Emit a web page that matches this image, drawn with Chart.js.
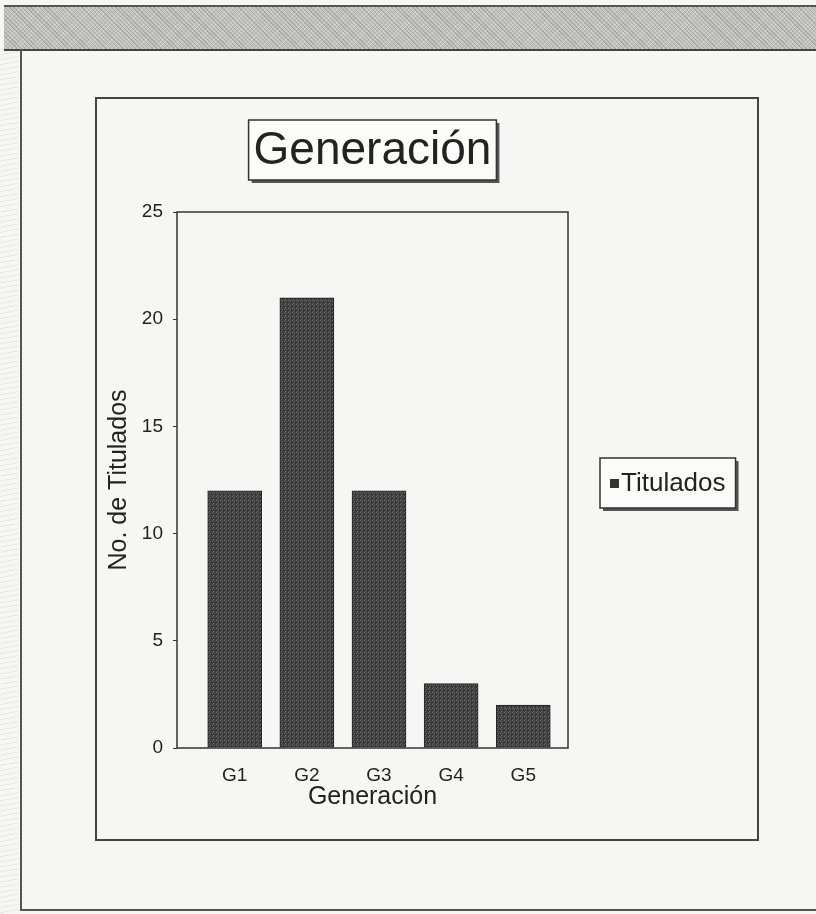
<!DOCTYPE html>
<html lang="es">
<head>
    <meta charset="UTF-8">
    <title>Generación</title>
    <script src="https://cdn.jsdelivr.net/npm/chart.js"></script>
    <style>
        body {
            margin: 0;
            width: 816px;
            height: 914px;
            background-color: #f6f6f4;
            font-family: Arial, "Liberation Sans", sans-serif;
            position: relative;
            overflow: hidden;
        }
        .band {
            position: absolute;
            left: 4px; right: 0; top: 5px; height: 42px;
            border-top: 2px solid #555;
            border-bottom: 2px solid #444;
            background-color: #c2c2bf;
            background-image: repeating-linear-gradient(45deg, rgba(100,100,100,0.3) 0 1px, transparent 1px 3px),
                              repeating-linear-gradient(-45deg, rgba(235,235,235,0.4) 0 1px, transparent 1px 3px);
        }
        .outer {
            position: absolute;
            left: 20px; top: 49px; width: 800px; height: 860px;
            border-left: 2px solid #555;
            border-bottom: 2px solid #555;
        }
        .inner {
            position: absolute;
            left: 95px; top: 97px; width: 660px; height: 740px;
            border: 2px solid #444;
        }
        .strip {
            position: absolute;
            left: 0; top: 49px; width: 18px; height: 865px;
            background-image: repeating-linear-gradient(170deg, rgba(160,160,160,0.18) 0 1px, transparent 1px 5px);
        }
        canvas { position: absolute; left: 0; top: 0; }
    </style>
</head>
<body>
    <div class="band"></div>
    <div class="strip"></div>
    <div class="outer"></div>
    <div class="inner"></div>
    <canvas id="chart" width="816" height="914"></canvas>

    <script>
        const categories = ["G1", "G2", "G3", "G4", "G5"];
        const titulados = [12, 21, 12, 3, 2];
        const yTicks = [0, 5, 10, 15, 20, 25];

        const chartTitle = "Generación";
        const seriesName = "Titulados";

        // small repeating speckle for the bars (scanned-print look)
        function speckle() {
            const c = document.createElement('canvas');
            c.width = 4; c.height = 4;
            const g = c.getContext('2d');
            g.fillStyle = '#3f3f3f';
            g.fillRect(0, 0, 4, 4);
            g.fillStyle = '#6c6c6c';
            g.fillRect(0, 0, 1, 1);
            g.fillRect(2, 1, 1, 1);
            g.fillRect(1, 3, 1, 1);
            g.fillStyle = '#2a2a2a';
            g.fillRect(3, 2, 1, 1);
            return g.createPattern(c, 'repeat');
        }

        function boxWithShadow(ctx, x, y, w, h) {
            ctx.save();
            ctx.fillStyle = '#555';
            ctx.fillRect(x + 3, y + 3, w, h);
            ctx.fillStyle = '#fbfbfa';
            ctx.fillRect(x, y, w, h);
            ctx.lineWidth = 1.5;
            ctx.strokeStyle = '#333';
            ctx.strokeRect(x, y, w, h);
            ctx.restore();
        }

        const decor = {
            id: 'decor',
            afterDraw(chart) {
                const ctx = chart.ctx;
                const a = chart.chartArea;

                // plot frame
                ctx.save();
                ctx.lineWidth = 1.5;
                ctx.strokeStyle = '#333';
                ctx.strokeRect(a.left, a.top, a.right - a.left, a.bottom - a.top);
                ctx.restore();

                // boxed title, centred over the plot area
                ctx.save();
                ctx.font = '46px Arial, "Liberation Sans", sans-serif';
                const tw = ctx.measureText(chartTitle).width;
                const cx = (a.left + a.right) / 2;
                const ty = a.top - 62;
                boxWithShadow(ctx, cx - tw / 2 - 5, ty - 30, tw + 10, 60);
                ctx.fillStyle = '#222';
                ctx.textAlign = 'center';
                ctx.textBaseline = 'middle';
                ctx.fillText(chartTitle, cx, ty + 1);
                ctx.restore();

                // boxed legend at the right, vertically centred
                ctx.save();
                ctx.font = '26px Arial, "Liberation Sans", sans-serif';
                const lw = ctx.measureText(seriesName).width;
                const lx = a.right + 32;
                const ly = (a.top + a.bottom) / 2 + 3;
                boxWithShadow(ctx, lx, ly - 25, lw + 31, 50);
                ctx.fillStyle = '#333';
                ctx.fillRect(lx + 10, ly - 4, 9, 9);
                ctx.fillStyle = '#222';
                ctx.textBaseline = 'middle';
                ctx.fillText(seriesName, lx + 21, ly + 1);
                ctx.restore();
            }
        };

        const ctx = document.getElementById('chart').getContext('2d');
        new Chart(ctx, {
            type: 'bar',
            data: {
                datasets: [{
                    label: seriesName,
                    data: titulados.map((v, i) => ({ x: i + 1, y: v })),
                    backgroundColor: speckle(),
                    borderColor: '#222',
                    borderWidth: 1,
                    barThickness: 54
                }]
            },
            options: {
                responsive: false,
                animation: false,
                layout: {
                    padding: { left: 102, top: 212, right: 248, bottom: 96 }
                },
                plugins: {
                    legend: { display: false },
                    title: { display: false },
                    tooltip: { enabled: false }
                },
                scales: {
                    x: {
                        type: 'linear',
                        min: 0.2,
                        max: 5.62,
                        offset: false,
                        afterBuildTicks(scale) {
                            scale.ticks = categories.map((c, i) => ({ value: i + 1 }));
                        },
                        grid: { display: false },
                        border: { display: false },
                        ticks: {
                            color: '#222',
                            font: { size: 19, family: 'Arial' },
                            padding: 8,
                            callback: v => categories[v - 1]
                        },
                        title: {
                            display: true,
                            text: 'Generación',
                            color: '#222',
                            font: { size: 25, family: 'Arial' },
                            padding: { top: 0, bottom: 6 }
                        },
                        afterFit(scale) { scale.height = 70; }
                    },
                    y: {
                        min: 0,
                        max: 25,
                        afterBuildTicks(scale) {
                            scale.ticks = yTicks.map(v => ({ value: v }));
                        },
                        grid: {
                            drawOnChartArea: false,
                            drawTicks: true,
                            tickLength: 4,
                            color: '#333'
                        },
                        border: { display: false },
                        ticks: {
                            color: '#222',
                            font: { size: 19, family: 'Arial' },
                            padding: 10
                        },
                        title: {
                            display: true,
                            text: 'No. de Titulados',
                            color: '#222',
                            font: { size: 25, family: 'Arial' },
                            padding: { top: 2, bottom: 4 }
                        },
                        afterFit(scale) { scale.width = 75; }
                    }
                }
            },
            plugins: [decor]
        });
    </script>
</body>
</html>
